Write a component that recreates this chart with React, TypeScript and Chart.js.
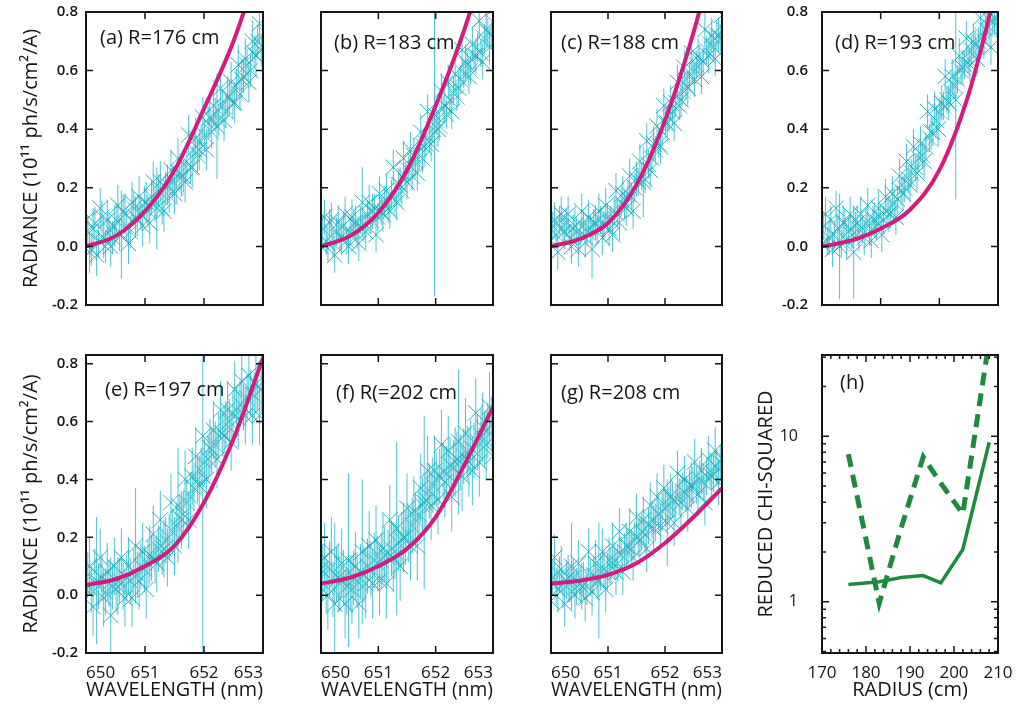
import React, { useEffect, useRef } from "react";
import { Chart, registerables } from "chart.js";

Chart.register(...registerables);

const FONT = "'Open Sans', 'Noto Sans', sans-serif";
Chart.defaults.font.family = FONT;
Chart.defaults.color = "#151515";

// ---------- data ----------
// spectral samples: two interleaved exposures per panel
const WAVELENGTH = [
  650.0, 650.06, 650.12, 650.18, 650.24, 650.3, 650.36, 650.42, 650.48, 650.54,
  650.6, 650.66, 650.72, 650.78, 650.84, 650.9, 650.96, 651.02, 651.08, 651.14,
  651.2, 651.26, 651.32, 651.38, 651.44, 651.5, 651.56, 651.62, 651.68, 651.74,
  651.8, 651.86, 651.92, 651.98, 652.04, 652.1, 652.16, 652.22, 652.28, 652.34,
  652.4, 652.46, 652.52, 652.58, 652.64, 652.7, 652.76, 652.82, 652.88, 652.94,
  653.0,
];
const WAVELENGTH_2 = [
  650.03, 650.09, 650.15, 650.21, 650.27, 650.33, 650.39, 650.45, 650.51, 650.57,
  650.63, 650.69, 650.75, 650.81, 650.87, 650.93, 650.99, 651.05, 651.11, 651.17,
  651.23, 651.29, 651.35, 651.41, 651.47, 651.53, 651.59, 651.65, 651.71, 651.77,
  651.83, 651.89, 651.95, 652.01, 652.07, 652.13, 652.19, 652.25, 652.31, 652.37,
  652.43, 652.49, 652.55, 652.61, 652.67, 652.73, 652.79, 652.85, 652.91, 652.97,
  653.03,
];

const RAD_A = [
  0.09, -0.02, 0.06, -0.03, 0.13, 0.03, 0.09, 0.0, 0.07,
  0.14, 0.04, 0.11, 0.01, 0.15, 0.1, 0.17, 0.07, 0.15,
  0.08, 0.22, 0.13, 0.22, 0.12, 0.21, 0.26, 0.18,
  0.3, 0.24, 0.22, 0.38, 0.27, 0.37, 0.33, 0.44,
  0.33, 0.44, 0.48, 0.41, 0.54, 0.43, 0.51, 0.56, 0.49,
  0.62, 0.57, 0.64, 0.56, 0.7, 0.65, 0.76, 0.68,
];
const RAD_A_2 = [
  0.05, -0.01, 0.08, 0.02, 0.1, 0.0, 0.06, 0.03,
  0.09, 0.04, 0.12, 0.07, 0.05, 0.13, 0.09, 0.11, 0.15,
  0.12, 0.17, 0.14, 0.19, 0.13, 0.2, 0.17, 0.22,
  0.2, 0.25, 0.24, 0.29, 0.27, 0.33, 0.31, 0.36,
  0.38, 0.42, 0.39, 0.45, 0.43, 0.48, 0.46, 0.51, 0.49,
  0.55, 0.52, 0.58, 0.62, 0.6, 0.66, 0.7, 0.67, 0.73,
];
const RAD_B = [
  0.0, 0.1, 0.01, 0.09, -0.03, 0.08, 0.03, 0.11, 0.0,
  0.1, 0.08, 0.01, 0.15, 0.05, 0.15, 0.12, 0.04, 0.18,
  0.11, 0.19, 0.12, 0.27, 0.15, 0.21, 0.3, 0.22,
  0.33, 0.31, 0.25, 0.39, 0.34, 0.46, 0.35, 0.45,
  0.4, 0.53, 0.48, 0.56, 0.46, 0.59, 0.54, 0.67, 0.63,
  0.58, 0.69, 0.65, 0.77, 0.63, 0.74, 0.68, 0.81,
];
const RAD_B_2 = [
  0.06, 0.02, 0.08, 0.01, 0.05, 0.03, 0.07, 0.02,
  0.05, 0.08, 0.04, 0.09, 0.07, 0.11, 0.09, 0.13, 0.1,
  0.12, 0.15, 0.13, 0.18, 0.16, 0.21, 0.19, 0.24,
  0.26, 0.24, 0.29, 0.31, 0.3, 0.35, 0.37, 0.4,
  0.43, 0.41, 0.47, 0.45, 0.5, 0.53, 0.51, 0.57, 0.59,
  0.62, 0.6, 0.65, 0.68, 0.66, 0.71, 0.73, 0.72, 0.76,
];
const RAD_C = [
  0.02, 0.09, -0.02, 0.11, 0.05, 0.11, 0.0, 0.07, -0.01,
  0.12, 0.03, 0.1, -0.01, 0.08, 0.12, 0.03, 0.14, 0.06,
  0.04, 0.19, 0.08, 0.18, 0.13, 0.24, 0.12, 0.23,
  0.29, 0.22, 0.36, 0.26, 0.35, 0.41, 0.34, 0.48,
  0.42, 0.49, 0.42, 0.56, 0.5, 0.61, 0.54, 0.66, 0.57,
  0.65, 0.58, 0.74, 0.65, 0.72, 0.64, 0.72, 0.79,
];
const RAD_C_2 = [
  0.07, 0.04, 0.09, 0.05, 0.08, 0.03, 0.06, 0.05,
  0.04, 0.07, 0.05, 0.06, 0.08, 0.06, 0.09, 0.07, 0.1,
  0.09, 0.12, 0.11, 0.15, 0.14, 0.18, 0.17, 0.2,
  0.22, 0.24, 0.23, 0.28, 0.3, 0.33, 0.35, 0.39,
  0.42, 0.44, 0.46, 0.49, 0.48, 0.53, 0.55, 0.58, 0.6,
  0.62, 0.64, 0.63, 0.67, 0.69, 0.68, 0.72, 0.71, 0.74,
];
const RAD_D = [
  0.01, 0.11, 0.03, -0.01, 0.13, 0.0, 0.08, 0.02, 0.11,
  -0.02, 0.08, 0.11, 0.03, 0.14, 0.02, 0.09, 0.13, 0.04,
  0.17, 0.11, 0.18, 0.1, 0.24, 0.18, 0.29, 0.21,
  0.34, 0.25, 0.35, 0.29, 0.46, 0.39, 0.47, 0.4,
  0.49, 0.58, 0.49, 0.58, 0.5, 0.65, 0.61, 0.71, 0.62,
  0.7, 0.64, 0.78, 0.7, 0.78, 0.68, 0.78, 0.83,
];
const RAD_D_2 = [
  0.07, 0.02, 0.09, 0.04, 0.06, 0.01, 0.08, 0.05,
  0.04, 0.07, 0.03, 0.06, 0.08, 0.05, 0.09, 0.07, 0.1,
  0.09, 0.12, 0.11, 0.15, 0.16, 0.19, 0.2, 0.23,
  0.25, 0.27, 0.3, 0.31, 0.34, 0.37, 0.39, 0.43,
  0.46, 0.48, 0.5, 0.53, 0.55, 0.57, 0.6, 0.62, 0.64,
  0.67, 0.69, 0.7, 0.72, 0.74, 0.75, 0.77, 0.76, 0.79,
];
const RAD_E = [
  0.02, 0.1, -0.04, 0.05, 0.13, -0.01, 0.08, -0.07, 0.1,
  0.03, 0.13, -0.01, 0.1, -0.01, 0.17, 0.05, 0.15, 0.02,
  0.14, 0.21, 0.11, 0.26, 0.16, 0.13, 0.32, 0.17,
  0.31, 0.26, 0.4, 0.26, 0.41, 0.48, 0.38, 0.55,
  0.4, 0.51, 0.57, 0.47, 0.64, 0.55, 0.64, 0.53, 0.71,
  0.61, 0.74, 0.62, 0.76, 0.62, 0.73, 0.62, 0.82,
];
const RAD_E_2 = [
  0.07, 0.02, 0.08, 0.03, 0.06, 0.01, 0.04, 0.03,
  0.02, 0.05, 0.03, 0.06, 0.05, 0.08, 0.07, 0.1, 0.09,
  0.11, 0.13, 0.12, 0.16, 0.15, 0.19, 0.2, 0.22,
  0.24, 0.27, 0.28, 0.32, 0.34, 0.37, 0.4, 0.43,
  0.46, 0.47, 0.5, 0.52, 0.55, 0.56, 0.59, 0.6, 0.63,
  0.64, 0.66, 0.65, 0.68, 0.7, 0.69, 0.72, 0.71, 0.74,
];
const RAD_F = [
  0.09, 0.13, 0.0, 0.15, -0.03, 0.06, 0.11, -0.03, 0.12,
  0.02, 0.1, -0.03, 0.15, 0.04, 0.17, 0.04, 0.19, 0.05,
  0.16, 0.04, 0.26, 0.13, 0.23, 0.1, 0.2, 0.3,
  0.17, 0.29, 0.17, 0.37, 0.32, 0.43, 0.31, 0.43,
  0.33, 0.52, 0.39, 0.5, 0.34, 0.46, 0.53, 0.41, 0.56,
  0.46, 0.43, 0.63, 0.46, 0.58, 0.52, 0.65, 0.48,
];
const RAD_F_2 = [
  0.08, 0.03, 0.09, 0.02, 0.07, 0.04, 0.06, 0.03,
  0.04, 0.06, 0.05, 0.08, 0.07, 0.1, 0.09, 0.12, 0.11,
  0.12, 0.14, 0.13, 0.16, 0.15, 0.18, 0.19, 0.2,
  0.21, 0.24, 0.26, 0.28, 0.31, 0.33, 0.36, 0.38,
  0.4, 0.41, 0.43, 0.42, 0.45, 0.44, 0.47, 0.46, 0.48,
  0.49, 0.51, 0.5, 0.53, 0.55, 0.54, 0.57, 0.59, 0.6,
];
const RAD_G = [
  -0.02, 0.13, 0.02, 0.09, -0.03, 0.06, 0.1, 0.0, 0.11,
  0.03, -0.01, 0.15, 0.01, 0.11, 0.05, 0.15, 0.02, 0.12,
  0.17, 0.08, 0.22, 0.08, 0.17, 0.22, 0.13, 0.27,
  0.19, 0.26, 0.16, 0.31, 0.23, 0.34, 0.24, 0.37,
  0.25, 0.34, 0.25, 0.42, 0.32, 0.4, 0.3, 0.38, 0.46,
  0.35, 0.43, 0.32, 0.47, 0.41, 0.5, 0.39, 0.47,
];
const RAD_G_2 = [
  0.06, 0.03, 0.07, 0.02, 0.05, 0.04, 0.06, 0.03,
  0.04, 0.05, 0.03, 0.06, 0.07, 0.05, 0.08, 0.09, 0.08,
  0.1, 0.12, 0.11, 0.14, 0.15, 0.17, 0.16, 0.19,
  0.2, 0.22, 0.21, 0.24, 0.26, 0.25, 0.28, 0.29,
  0.3, 0.31, 0.33, 0.32, 0.34, 0.36, 0.35, 0.37, 0.38,
  0.38, 0.4, 0.39, 0.41, 0.43, 0.42, 0.44, 0.46, 0.45,
];

// typical error-bar half-length per panel, plus long individual bars [index, half-length]
const ERR_A = 0.07;
const ERR_B = 0.06;
const ERR_C = 0.06;
const ERR_D = 0.06;
const ERR_E = 0.1;
const ERR_F = 0.12;
const ERR_G = 0.08;
const LONG_A: [number, number][] = [[10, 0.15], [20, 0.14], [37, 0.18]];
const LONG_B: [number, number][] = [[33, 0.62], [12, 0.12]];
const LONG_C: [number, number][] = [[12, 0.1], [27, 0.12]];
const LONG_D: [number, number][] = [[38, 0.34], [5, 0.18], [9, 0.16]];
const LONG_E: [number, number][] = [[33, 0.75], [3, 0.22], [7, 0.2], [14, 0.2], [26, 0.2]];
const LONG_F: [number, number][] = [[4, 0.28], [8, 0.3], [12, 0.25], [22, 0.3], [30, 0.3], [40, 0.25]];
const LONG_G: [number, number][] = [[6, 0.15], [14, 0.2], [34, 0.15]];

const FIT_WAVELENGTH = [650.0, 650.5, 651.0, 651.5, 652.0, 652.5, 653.0];
const FIT_A = [0.0, 0.035, 0.12, 0.26, 0.47, 0.7, 1.0];
const FIT_B = [0.0, 0.035, 0.115, 0.26, 0.48, 0.74, 1.06];
const FIT_C = [0.0, 0.025, 0.08, 0.21, 0.43, 0.73, 1.1];
const FIT_D = [0.0, 0.02, 0.06, 0.125, 0.26, 0.52, 0.9];
const FIT_E = [0.035, 0.055, 0.1, 0.17, 0.32, 0.54, 0.82];
const FIT_F = [0.04, 0.06, 0.1, 0.16, 0.27, 0.45, 0.65];
const FIT_G = [0.04, 0.05, 0.07, 0.11, 0.18, 0.27, 0.37];

const RADIUS = [176, 183, 188, 193, 197, 202, 208];
const CHI_SOLID = [1.27, 1.32, 1.4, 1.44, 1.3, 2.07, 9.2];
const CHI_DASHED = [7.8, 0.98, 2.8, 7.5, 5.2, 3.4, 38];

const WL_TICKS = [650, 651, 652, 653];
const RADIANCE_TICKS = [-0.2, 0, 0.2, 0.4, 0.6, 0.8];
const RADIUS_TICKS = [170, 180, 190, 200, 210];
const RADIUS_MINOR = [172, 174, 176, 178, 182, 184, 186, 188, 192, 194, 196, 198, 202, 204, 206, 208];
const CHI_TICKS = [1, 10];
const CHI_MINOR = [0.5, 0.6, 0.7, 0.8, 0.9, 2, 3, 4, 5, 6, 7, 8, 9, 20, 30];

// ---------- style ----------
const CYAN = "rgba(16,168,190,0.9)";
const CYAN_LIGHT = "rgba(50,188,206,0.85)";
const CYAN_BAR = "rgba(45,185,203,0.85)";
const MAGENTA = "#d31c7c";
const GREEN = "#1d8a3e";
const INK = "#151515";

// ---------- layout ----------
const COLS = [[86, 263], [315, 493], [545, 722], [822, 998]];
const ROWS = [[12, 305], [355, 653]];
const PAD_TOP = 40;
const PAD_RIGHT = 30;
const X_TICK_PAD = 10;

type SpectrumSpec = {
  label: string;
  radiance: number[];
  radiance2: number[];
  fit: number[];
  err: number;
  long: [number, number][];
  row: number;
  col: number;
  yLabels: boolean;
  yTitle: boolean;
  labelOffset: [number, number];
};

const SPECTRA: SpectrumSpec[] = [
  { label: "(a) R=176 cm", radiance: RAD_A, radiance2: RAD_A_2, fit: FIT_A, err: ERR_A, long: LONG_A, row: 0, col: 0, yLabels: true, yTitle: true, labelOffset: [14, 26] },
  { label: "(b) R=183 cm", radiance: RAD_B, radiance2: RAD_B_2, fit: FIT_B, err: ERR_B, long: LONG_B, row: 0, col: 1, yLabels: false, yTitle: false, labelOffset: [13, 31] },
  { label: "(c) R=188 cm", radiance: RAD_C, radiance2: RAD_C_2, fit: FIT_C, err: ERR_C, long: LONG_C, row: 0, col: 2, yLabels: false, yTitle: false, labelOffset: [10, 31] },
  { label: "(d) R=193 cm", radiance: RAD_D, radiance2: RAD_D_2, fit: FIT_D, err: ERR_D, long: LONG_D, row: 0, col: 3, yLabels: true, yTitle: false, labelOffset: [13, 31] },
  { label: "(e) R=197 cm", radiance: RAD_E, radiance2: RAD_E_2, fit: FIT_E, err: ERR_E, long: LONG_E, row: 1, col: 0, yLabels: true, yTitle: true, labelOffset: [19, 35] },
  { label: "(f) R(=202 cm", radiance: RAD_F, radiance2: RAD_F_2, fit: FIT_F, err: ERR_F, long: LONG_F, row: 1, col: 1, yLabels: false, yTitle: false, labelOffset: [15, 38] },
  { label: "(g) R=208 cm", radiance: RAD_G, radiance2: RAD_G_2, fit: FIT_G, err: ERR_G, long: LONG_G, row: 1, col: 2, yLabels: false, yTitle: false, labelOffset: [10, 38] },
];

type BarSet = { x: number[]; y: number[]; err: number; long: [number, number][] };

type FrameOpts = {
  xMajor: number[];
  yMajor: number[];
  xMinor?: number[];
  yMinor?: number[];
  label: string;
  labelOffset: [number, number];
  bars?: BarSet[];
};

function makeFramePlugin(o: FrameOpts) {
  return {
    id: "frameAndBars",
    beforeDatasetsDraw(chart: any) {
      if (!o.bars) return;
      const { ctx, chartArea: a, scales } = chart;
      const xs = scales.x;
      const ys = scales.y;
      ctx.save();
      ctx.beginPath();
      ctx.rect(a.left, a.top, a.right - a.left, a.bottom - a.top);
      ctx.clip();
      ctx.strokeStyle = CYAN_BAR;
      ctx.lineWidth = 1;
      ctx.beginPath();
      o.bars.forEach((set) => {
        const longMap = new Map<number, number>(set.long);
        set.y.forEach((v, i) => {
          const e = longMap.has(i) ? (longMap.get(i) as number) : set.err;
          const px = xs.getPixelForValue(set.x[i]);
          ctx.moveTo(px, ys.getPixelForValue(v - e));
          ctx.lineTo(px, ys.getPixelForValue(v + e));
        });
      });
      ctx.stroke();
      ctx.restore();
    },
    afterDraw(chart: any) {
      const { ctx, chartArea: a, scales } = chart;
      const xs = scales.x;
      const ys = scales.y;
      ctx.save();
      ctx.strokeStyle = INK;
      ctx.lineWidth = 1.5;
      ctx.beginPath();
      const drawX = (vals: number[], len: number) => {
        vals.forEach((v) => {
          const px = xs.getPixelForValue(v);
          if (px <= a.left + 1 || px >= a.right - 1) return;
          ctx.moveTo(px, a.bottom);
          ctx.lineTo(px, a.bottom - len);
          ctx.moveTo(px, a.top);
          ctx.lineTo(px, a.top + len);
        });
      };
      const drawY = (vals: number[], len: number) => {
        vals.forEach((v) => {
          const py = ys.getPixelForValue(v);
          if (py <= a.top + 1 || py >= a.bottom - 1) return;
          ctx.moveTo(a.left, py);
          ctx.lineTo(a.left + len, py);
          ctx.moveTo(a.right, py);
          ctx.lineTo(a.right - len, py);
        });
      };
      drawX(o.xMajor, 7);
      drawY(o.yMajor, 7);
      if (o.xMinor) drawX(o.xMinor, 4);
      if (o.yMinor) drawY(o.yMinor, 4);
      ctx.stroke();
      ctx.lineWidth = 2;
      ctx.strokeRect(a.left, a.top, a.right - a.left, a.bottom - a.top);
      ctx.font = `20px ${FONT}`;
      ctx.fillStyle = INK;
      ctx.textBaseline = "middle";
      ctx.textAlign = "left";
      ctx.fillText(o.label, a.left + o.labelOffset[0], a.top + o.labelOffset[1]);
      ctx.restore();
    },
  };
}

type Box = { left: number; top: number; width: number; height: number };

function SpectrumChart({ spec }: { spec: SpectrumSpec }) {
  const ref = useRef<HTMLCanvasElement>(null);
  const yW = spec.yTitle ? 86 : spec.yLabels ? 50 : 6;
  const bottomRow = spec.row === 1;
  const xH = bottomRow ? 704 - ROWS[1][1] : 40;
  const [l, r] = COLS[spec.col];
  const [t, b] = ROWS[spec.row];
  const box: Box = { left: l - yW, top: t - PAD_TOP, width: r - l + yW + PAD_RIGHT, height: b - t + PAD_TOP + xH };
  const yMax = bottomRow ? 0.83 : 0.8;

  useEffect(() => {
    const canvas = ref.current;
    if (!canvas) return;
    const crossStyle = {
      pointStyle: "crossRot",
      pointRadius: 11,
      borderWidth: 1,
    };
    const chart = new Chart(canvas, {
      type: "scatter",
      data: {
        datasets: [
          {
            data: FIT_WAVELENGTH.map((x, i) => ({ x, y: spec.fit[i] })),
            showLine: true,
            borderColor: MAGENTA,
            borderWidth: 4,
            pointRadius: 0,
            cubicInterpolationMode: "monotone",
          } as any,
          {
            data: WAVELENGTH.map((x, i) => ({ x, y: spec.radiance[i] })),
            ...crossStyle,
            borderColor: CYAN,
            backgroundColor: CYAN,
          } as any,
          {
            data: WAVELENGTH_2.map((x, i) => ({ x, y: spec.radiance2[i] })),
            ...crossStyle,
            borderColor: CYAN_LIGHT,
            backgroundColor: CYAN_LIGHT,
          } as any,
        ],
      },
      options: {
        animation: false,
        responsive: false,
        events: [],
        layout: { padding: { top: PAD_TOP, right: PAD_RIGHT, left: 0, bottom: 0 } },
        plugins: { legend: { display: false }, tooltip: { enabled: false } },
        scales: {
          x: {
            type: "linear",
            min: 650,
            max: 653,
            afterBuildTicks: (s: any) => {
              s.ticks = WL_TICKS.map((v) => ({ value: v }));
            },
            afterFit: (s: any) => {
              s.height = xH;
            },
            grid: { display: false, drawTicks: false },
            border: { display: false },
            ticks: {
              display: bottomRow,
              align: "inner",
              padding: X_TICK_PAD,
              font: { size: 17 },
              color: INK,
              maxRotation: 0,
              callback: (v: any) => String(v),
            },
            title: {
              display: bottomRow,
              text: "WAVELENGTH (nm)",
              font: { size: 20 },
              color: INK,
              padding: { top: 0, bottom: 2 },
            },
          } as any,
          y: {
            type: "linear",
            min: -0.2,
            max: yMax,
            afterBuildTicks: (s: any) => {
              s.ticks = RADIANCE_TICKS.map((v) => ({ value: v }));
            },
            afterFit: (s: any) => {
              s.width = yW;
            },
            grid: { display: false, drawTicks: false },
            border: { display: false },
            ticks: {
              display: spec.yLabels,
              padding: spec.yTitle ? 8 : 14,
              font: { size: 15, weight: "600" },
              color: INK,
              callback: (v: any) => Number(v).toFixed(1),
            },
            title: {
              display: spec.yTitle,
              text: "RADIANCE (10¹¹ ph/s/cm²/A)",
              font: { size: 20 },
              color: INK,
              padding: { top: 19, bottom: 0 },
            },
          } as any,
        },
      },
      plugins: [
        makeFramePlugin({
          xMajor: WL_TICKS,
          yMajor: RADIANCE_TICKS,
          label: spec.label,
          labelOffset: spec.labelOffset,
          bars: [
            { x: WAVELENGTH, y: spec.radiance, err: spec.err, long: spec.long },
            { x: WAVELENGTH_2, y: spec.radiance2, err: spec.err * 0.8, long: [] },
          ],
        }) as any,
      ],
    });
    return () => chart.destroy();
  }, []);

  return (
    <canvas
      ref={ref}
      width={box.width}
      height={box.height}
      style={{ position: "absolute", left: box.left, top: box.top, width: box.width, height: box.height }}
    />
  );
}

function ChiChart() {
  const ref = useRef<HTMLCanvasElement>(null);
  const yW = 77;
  const [l, r] = COLS[3];
  const [t, b] = ROWS[1];
  const xH = 704 - b;
  const box: Box = { left: l - yW, top: t - PAD_TOP, width: r - l + yW + PAD_RIGHT, height: b - t + PAD_TOP + xH };

  useEffect(() => {
    const canvas = ref.current;
    if (!canvas) return;
    const chart = new Chart(canvas, {
      type: "scatter",
      data: {
        datasets: [
          {
            data: RADIUS.map((x, i) => ({ x, y: CHI_DASHED[i] })),
            showLine: true,
            borderColor: GREEN,
            borderWidth: 5,
            borderDash: [13, 8],
            pointRadius: 0,
          } as any,
          {
            data: RADIUS.map((x, i) => ({ x, y: CHI_SOLID[i] })),
            showLine: true,
            borderColor: GREEN,
            borderWidth: 3.5,
            pointRadius: 0,
          } as any,
        ],
      },
      options: {
        animation: false,
        responsive: false,
        events: [],
        layout: { padding: { top: PAD_TOP, right: PAD_RIGHT, left: 0, bottom: 0 } },
        plugins: { legend: { display: false }, tooltip: { enabled: false } },
        scales: {
          x: {
            type: "linear",
            min: 170,
            max: 210,
            afterBuildTicks: (s: any) => {
              s.ticks = RADIUS_TICKS.map((v) => ({ value: v }));
            },
            afterFit: (s: any) => {
              s.height = xH;
            },
            grid: { display: false, drawTicks: false },
            border: { display: false },
            ticks: { padding: X_TICK_PAD, font: { size: 17 }, color: INK, maxRotation: 0, callback: (v: any) => String(v) },
            title: { display: true, text: "RADIUS (cm)", font: { size: 20 }, color: INK, padding: { top: 0, bottom: 2 } },
          } as any,
          y: {
            type: "logarithmic",
            min: 0.49,
            max: 31,
            afterBuildTicks: (s: any) => {
              s.ticks = CHI_TICKS.map((v) => ({ value: v }));
            },
            afterFit: (s: any) => {
              s.width = yW;
            },
            grid: { display: false, drawTicks: false },
            border: { display: false },
            ticks: { padding: 24, font: { size: 16 }, color: INK, callback: (v: any) => String(v) },
            title: { display: true, text: "REDUCED CHI-SQUARED", font: { size: 20 }, color: INK, padding: { top: 9, bottom: 0 } },
          } as any,
        },
      },
      plugins: [
        makeFramePlugin({
          xMajor: RADIUS_TICKS,
          yMajor: CHI_TICKS,
          xMinor: RADIUS_MINOR,
          yMinor: CHI_MINOR,
          label: "(h)",
          labelOffset: [18, 28],
        }) as any,
      ],
    });
    return () => chart.destroy();
  }, []);

  return (
    <canvas
      ref={ref}
      width={box.width}
      height={box.height}
      style={{ position: "absolute", left: box.left, top: box.top, width: box.width, height: box.height }}
    />
  );
}

export default function App() {
  return (
    <div style={{ position: "absolute", left: 0, top: 0, width: 1025, height: 704, background: "#fff", overflow: "hidden" }}>
      {SPECTRA.map((s) => (
        <SpectrumChart key={s.label} spec={s} />
      ))}
      <ChiChart />
    </div>
  );
}
